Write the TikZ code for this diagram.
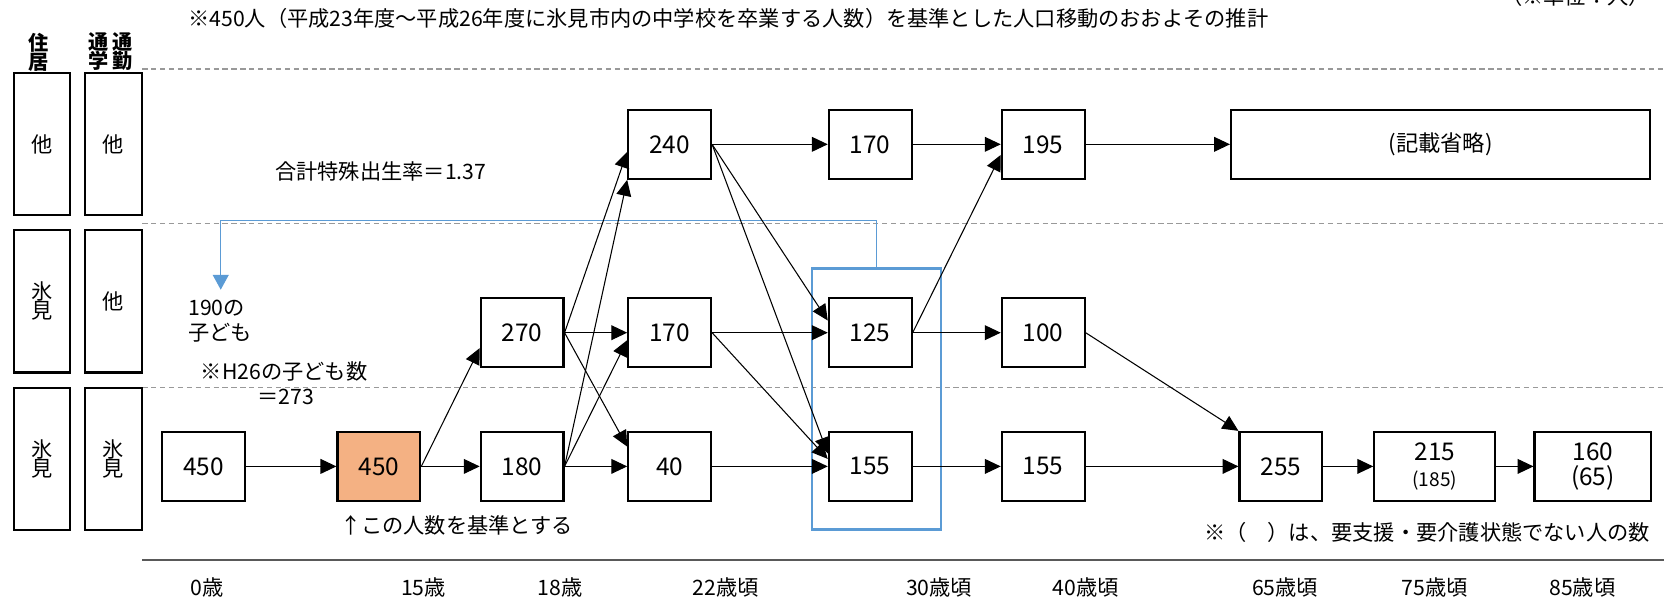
\documentclass[tikz,border=0pt]{standalone}
\usepackage{fontspec}
\setmainfont{Noto Sans CJK JP}
\usepackage{tikz}
\usepackage{xcolor}
\usetikzlibrary{
    arrows.meta
}
\definecolor{baseorange}{HTML}{F4B183}
\definecolor{linkblue}{HTML}{5B9BD5}

\begin{document}
\begin{tikzpicture}[x=0.5pt, y=-0.5pt,
    >={Triangle[length=7.5pt, width=7pt]},
    popbox/.style={draw=black, line width=1pt, inner sep=0pt, minimum width=39pt, minimum height=32.5pt, align=center, font=\fontsize{11.5}{12}\selectfont},
    areabox/.style={draw=black, line width=1pt, inner sep=0pt, minimum width=26.5pt, minimum height=67pt, align=center, font=\fontsize{10}{9}\selectfont},
    headtxt/.style={inner sep=0pt, align=center, font=\bfseries\fontsize{9.5}{9}\selectfont},
    txt/.style={inner sep=0pt, font=\fontsize{10}{12}\selectfont},
    zoneline/.style={draw=black!40, line width=0.5pt, dash pattern=on 2.5pt off 1.7pt}]
                        \useasboundingbox (0,0) rectangle (1568,566);

                        \draw[zoneline] (134,65) -- (1568,65);
                        \draw[zoneline] (134,211) -- (1568,211);
                        \draw[zoneline] (134,365) -- (1568,365);
                        \draw[line width=1pt, black!65] (134,528) -- (1568,528);

                        \node[headtxt] (livhd) at (36,49) {住\\居};
                        \node[headtxt] (comhd) at (104,49) {通\kern2pt通\\学\kern2pt勤};
                        \node[areabox] (livt) at (39.5,136) {他};
                        \node[areabox] (livm) at (39.5,284) {氷\\見};
                        \node[areabox] (livb) at (39.5,432.5) {氷\\見};
                        \node[areabox] (comt) at (107,136) {他};
                        \node[areabox] (comm) at (107,284) {他};
                        \node[areabox] (comb) at (107,432.5) {氷\\見};

                        \node[draw=linkblue, line width=1pt, inner sep=0pt, minimum width=61pt, minimum height=123pt] (grp30) at (826,376) {};
                        \coordinate (kidbend) at (208,208);
                        \coordinate (kidtip) at (208,273);
                        \draw[linkblue, line width=0.6pt, -{Triangle[length=7pt, width=7.5pt]}] (grp30.north) |- (kidbend) -- (kidtip);

                        \node[popbox] (h0) at (192,439.5) {450};
                        \node[popbox, fill=baseorange] (h15) at (357,439.5) {450};
                        \node[popbox] (h18) at (492,439.5) {180};
                        \node[popbox] (m18) at (492,313.5) {270};
                        \node[popbox] (t22) at (631,136) {240};
                        \node[popbox] (m22) at (631,313.5) {170};
                        \node[popbox] (h22) at (631,439.5) {40};
                        \node[popbox] (t30) at (820,136) {170};
                        \node[popbox] (m30) at (820,313.5) {125};
                        \node[popbox] (h30) at (820,439.5) {155};
                        \node[popbox] (t40) at (983,136) {195};
                        \node[popbox] (m40) at (983,313.5) {100};
                        \node[popbox] (h40) at (983,439.5) {155};
                        \node[popbox, minimum width=197.5pt, font=\fontsize{10.5}{12}\selectfont] (t65) at (1357.5,136) {(記載省略)};
                        \node[popbox] (h65) at (1207,439.5) {255};
                        \node[popbox, minimum width=57pt] (h75) at (1352,439.5) {215\\{\fontsize{9}{10}\selectfont (185)}};
                        \node[popbox, minimum width=55pt] (h85) at (1501,439.5) {160\\(65)};

                        \draw[line width=0.5pt]
                        (h0) edge[->] (h15)
                        (h15) edge[->] (h18)
                        (h15.east) edge[->] (m18.200)
                        (h18) edge[->] (h22)
                        (h18.east) edge[->] (m22.190)
                        (h18.east) edge[->] (t22.south west)
                        (m18) edge[->] (m22)
                        (m18.east) edge[->] (t22.190)
                        (m18.east) edge[->] (h22.155)
                        (t22) edge[->] (t30)
                        (t22.east) edge[->] (m30.164)
                        (t22.east) edge[->] (h30.163)
                        (m22) edge[->] (m30)
                        (m22.east) edge[->] (h30.170)
                        (h22) edge[->] (h30)
                        (t30) edge[->] (t40)
                        (m30) edge[->] (m40)
                        (m30.east) edge[->] (t40.194)
                        (h30) edge[->] (h40)
                        (t40) edge[->] (t65)
                        (m40.east) edge[->] (h65.north west)
                        (h40) edge[->] (h65)
                        (h65) edge[->] (h75)
                        (h75) edge[->] (h85);

                        \node[txt, anchor=west] (title) at (177,17) {※450人（平成23年度～平成26年度に氷見市内の中学校を卒業する人数）を基準とした人口移動のおおよその推計};
                        \node[txt, anchor=east] (unit) at (1555,-3) {（※単位：人）};
                        \node[txt, anchor=west] (tfr) at (259,162) {合計特殊出生率＝1.37};
                        \node[txt, anchor=west, align=left] (kids) at (177,302.5) {190の\\子ども};
                        \node[txt, anchor=west] (kidsnote) at (189,350) {※H26の子ども数};
                        \node[txt, anchor=west] (kidsval) at (242,374) {＝273};
                        \node[txt, anchor=west] (basenote) at (320,495) {↑この人数を基準とする};
                        \node[txt, anchor=east] (carenote) at (1555,502) {※（　）は、要支援・要介護状態でない人の数};

                        \node[txt] (age0) at (195,554) {0歳};
                        \node[txt] (age15) at (399,554) {15歳};
                        \node[txt] (age18) at (528,554) {18歳};
                        \node[txt] (age22) at (684,554) {22歳頃};
                        \node[txt] (age30) at (885,554) {30歳頃};
                        \node[txt] (age40) at (1023,554) {40歳頃};
                        \node[txt] (age65) at (1211,554) {65歳頃};
                        \node[txt] (age75) at (1352,554) {75歳頃};
                        \node[txt] (age85) at (1491,554) {85歳頃};
                    \end{tikzpicture}
\end{document}
